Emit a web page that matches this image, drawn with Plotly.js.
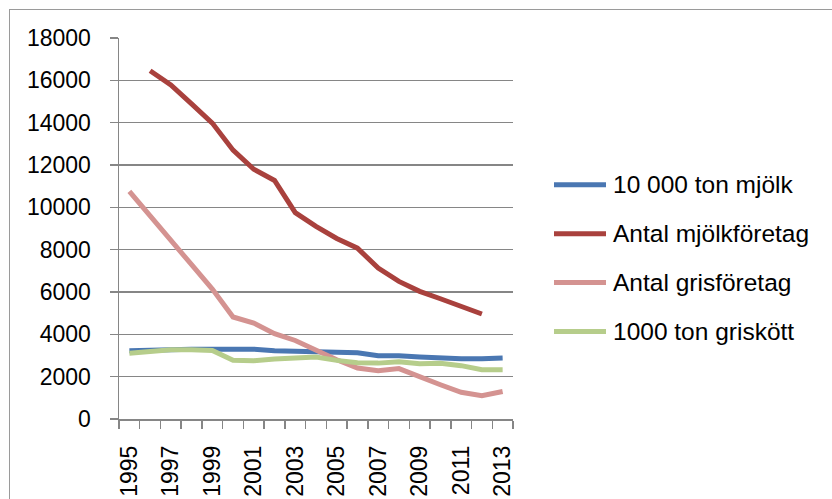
<!DOCTYPE html>
<html>
<head>
<meta charset="utf-8">
<script src="https://cdn.plot.ly/plotly-3.0.1.min.js"></script>
<style>
  html, body { margin: 0; padding: 0; background: #fff; }
  #wrap { position: relative; width: 832px; height: 499px; overflow: hidden; }
  #frame { position: absolute; left: 9px; top: 9px; right: -5px; bottom: -5px;
           border-left: 1.5px solid #9a9a9a; border-top: 1.5px solid #9a9a9a; pointer-events: none; }
  #chart { position: absolute; left: 0; top: 0; width: 832px; height: 499px; }
</style>
</head>
<body>
<div id="wrap">
  <div id="chart"></div>
  <div id="frame"></div>
</div>
<script>
// ---- data ----
const years = [1995,1996,1997,1998,1999,2000,2001,2002,2003,2004,2005,2006,2007,2008,2009,2010,2011,2012,2013];
const tickYears = [1995,1997,1999,2001,2003,2005,2007,2009,2011,2013];
const tickLabels = ["1995","1997","1999","2001","2003","2005","2007","2009","2011","2013"];

const seriesNames = ["10 000 ton mjölk", "Antal mjölkföretag", "Antal grisföretag", "1000 ton griskött"];

const tonMjolk = [3230,3270,3300,3300,3300,3300,3300,3230,3210,3190,3160,3130,2990,2990,2930,2870,2850,2850,2880];
const mjolkForetag = [null,16450,15780,14890,13980,12700,11800,11270,9750,9100,8530,8070,7130,6500,6030,5680,5290,4960,null];
const grisForetag = [10750,9620,8460,7290,6140,4820,4530,4030,3710,3230,2800,2410,2280,2380,1980,1620,1260,1100,1300];
const tonGriskott = [3110,3190,3270,3270,3240,2770,2750,2830,2860,2930,2770,2660,2640,2710,2610,2630,2520,2330,2330];

const colors = ["#4A77B2", "#A9413D", "#D49391", "#B6CD8B"];
const allSeries = [tonMjolk, mjolkForetag, grisForetag, tonGriskott];

// ---- geometry ----
const W = 832, H = 499;
const L = 119, R = 513, T = 38.3, B = 419.3;
const px2x = p => (p - L) / (R - L);
const px2y = p => (B - p) / (B - T);

const traces = allSeries.map((vals, i) => ({
  x: years, y: vals, type: 'scatter', mode: 'lines', name: seriesNames[i],
  line: { color: colors[i], width: 5 }, connectgaps: false, showlegend: false,
  hoverinfo: 'skip'
}));

// manual legend (Excel style long line samples)
const legendY = [185, 234, 282.7, 331.7];
const shapes = [];
const annotations = [];
legendY.forEach((py, i) => {
  shapes.push({ type: 'line', xref: 'paper', yref: 'paper',
    x0: px2x(554), x1: px2x(606), y0: px2y(py), y1: px2y(py),
    line: { color: colors[i], width: 5 } });
  annotations.push({ xref: 'paper', yref: 'paper', x: px2x(611), y: px2y(py),
    xanchor: 'left', yanchor: 'middle', showarrow: false, text: seriesNames[i],
    font: { family: 'Liberation Sans, Arial, sans-serif', size: 24.5, color: '#000' } });
});

const axisGrey = '#868686';
const layout = {
  width: W, height: H,
  margin: { l: L, r: W - R, t: T, b: H - B, pad: 0 },
  paper_bgcolor: '#fff', plot_bgcolor: '#fff',
  font: { family: 'Liberation Sans, Arial, sans-serif', size: 23, color: '#000' },
  showlegend: false,
  xaxis: {
    type: 'linear', range: [1994.5, 2013.5], fixedrange: true,
    tickmode: 'array', tickvals: tickYears, ticktext: tickLabels,
    tickangle: -90, ticks: '', ticklabelstandoff: 16,
    showgrid: false, zeroline: false,
    showline: true, linecolor: axisGrey, linewidth: 1.5,
    minor: { ticks: 'outside', tick0: 1994.5, dtick: 1, ticklen: 8, tickcolor: axisGrey, tickwidth: 1.5, showgrid: false },
    tickfont: { size: 23 }
  },
  yaxis: {
    range: [0, 18000], dtick: 2000, tick0: 0, fixedrange: true,
    tickformat: 'd',
    ticks: 'outside', ticklen: 8, tickcolor: axisGrey, tickwidth: 1.5,
    ticklabelstandoff: 14,
    showgrid: true, gridcolor: axisGrey, gridwidth: 1.5,
    zeroline: false, showline: true, linecolor: axisGrey, linewidth: 1.5,
    tickfont: { size: 23 }
  },
  shapes: shapes,
  annotations: annotations
};

Plotly.newPlot('chart', traces, layout, { staticPlot: true, displayModeBar: false });
</script>
</body>
</html>
